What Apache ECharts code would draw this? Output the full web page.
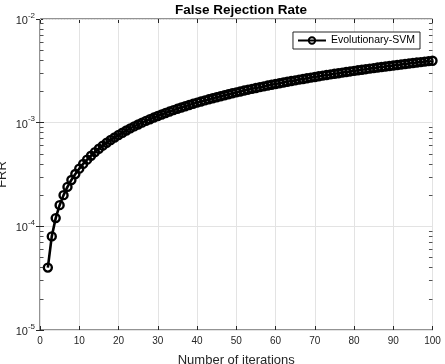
<!DOCTYPE html>
<html>
<head>
<meta charset="utf-8">
<script src="https://cdn.jsdelivr.net/npm/echarts@6/dist/echarts.min.js"></script>
<style>
  html, body { margin: 0; padding: 0; background: #fff; }
  #chart { width: 445px; height: 364px; }
</style>
</head>
<body>
<div id="chart"></div>
<script>
// iterations on the x axis
var iterations = [
  2, 3, 4, 5, 6, 7, 8, 9, 10, 11,
  12, 13, 14, 15, 16, 17, 18, 19, 20, 21,
  22, 23, 24, 25, 26, 27, 28, 29, 30, 31,
  32, 33, 34, 35, 36, 37, 38, 39, 40, 41,
  42, 43, 44, 45, 46, 47, 48, 49, 50, 51,
  52, 53, 54, 55, 56, 57, 58, 59, 60, 61,
  62, 63, 64, 65, 66, 67, 68, 69, 70, 71,
  72, 73, 74, 75, 76, 77, 78, 79, 80, 81,
  82, 83, 84, 85, 86, 87, 88, 89, 90, 91,
  92, 93, 94, 95, 96, 97, 98, 99, 100
];
// false rejection rate
var frr = [
  4.0e-5, 8.0e-5, 1.2e-4, 1.6e-4, 2.0e-4, 2.4e-4, 2.8e-4, 3.2e-4, 3.6e-4, 4.0e-4,
  4.4e-4, 4.8e-4, 5.2e-4, 5.6e-4, 6.0e-4, 6.4e-4, 6.8e-4, 7.2e-4, 7.6e-4, 8.0e-4,
  8.4e-4, 8.8e-4, 9.2e-4, 9.6e-4, 1.00e-3, 1.04e-3, 1.08e-3, 1.12e-3, 1.16e-3, 1.20e-3,
  1.24e-3, 1.28e-3, 1.32e-3, 1.36e-3, 1.40e-3, 1.44e-3, 1.48e-3, 1.52e-3, 1.56e-3, 1.60e-3,
  1.64e-3, 1.68e-3, 1.72e-3, 1.76e-3, 1.80e-3, 1.84e-3, 1.88e-3, 1.92e-3, 1.96e-3, 2.00e-3,
  2.04e-3, 2.08e-3, 2.12e-3, 2.16e-3, 2.20e-3, 2.24e-3, 2.28e-3, 2.32e-3, 2.36e-3, 2.40e-3,
  2.44e-3, 2.48e-3, 2.52e-3, 2.56e-3, 2.60e-3, 2.64e-3, 2.68e-3, 2.72e-3, 2.76e-3, 2.80e-3,
  2.84e-3, 2.88e-3, 2.92e-3, 2.96e-3, 3.00e-3, 3.04e-3, 3.08e-3, 3.12e-3, 3.16e-3, 3.20e-3,
  3.24e-3, 3.28e-3, 3.32e-3, 3.36e-3, 3.40e-3, 3.44e-3, 3.48e-3, 3.52e-3, 3.56e-3, 3.60e-3,
  3.64e-3, 3.68e-3, 3.72e-3, 3.76e-3, 3.80e-3, 3.84e-3, 3.88e-3, 3.92e-3, 3.96e-3
];
var decades = [-5, -4, -3];
var minorSteps = [2, 3, 4, 5, 6, 7, 8, 9];

var FONT = "'Liberation Sans', Arial, sans-serif";
var INK = '#262626';

var points = iterations.map(function (x, i) { return [x, frr[i]]; });

// dotted minor grid + small ticks at 2..9 x 10^k
var minorGrid = [];
var minorTicks = [];
decades.forEach(function (d) {
  minorSteps.forEach(function (m) {
    var v = m * Math.pow(10, d);
    minorGrid.push({ yAxis: v });
    minorTicks.push([{ coord: [0, v] }, { coord: [0.9, v] }]);
    minorTicks.push([{ coord: [99.1, v] }, { coord: [100, v] }]);
  });
});

function logLabel(v) {
  var e = Math.round(Math.log(v) / Math.LN10);
  return '{b|10}{s|' + e + '}';
}

var chart = echarts.init(document.getElementById('chart'));
chart.setOption({
  animation: false,
  textStyle: { fontFamily: FONT },
  title: {
    text: 'False Rejection Rate',
    left: 170,
    top: -2,
    textStyle: { fontSize: 13.5, fontWeight: 'bold', color: '#000', fontFamily: FONT }
  },
  legend: {
    right: 25,
    top: 32,
    orient: 'vertical',
    backgroundColor: '#fff',
    borderColor: INK,
    borderWidth: 1,
    borderRadius: 0,
    padding: [3, 5, 3, 4],
    itemWidth: 28,
    itemHeight: 8,
    itemGap: 0,
    textStyle: { fontSize: 10.5, color: '#000', fontFamily: FONT },
    data: ['Evolutionary-SVM']
  },
  grid: {
    left: 40, right: 12.5, top: 19, bottom: 34,
    containLabel: false,
    outerBoundsMode: 'none',
    show: true,
    borderColor: INK,
    borderWidth: 1,
    backgroundColor: 'transparent'
  },
  xAxis: [{
    type: 'value',
    min: 0,
    max: 100,
    interval: 10,
    name: 'Number of iterations',
    nameLocation: 'middle',
    nameGap: 24,
    nameMoveOverlap: false,
    nameTextStyle: { fontSize: 13, color: INK, fontFamily: FONT },
    axisLine: { show: false },
    axisTick: { inside: true, length: 4, lineStyle: { color: INK } },
    axisLabel: { fontSize: 10, color: INK, margin: 6, fontFamily: FONT },
    splitLine: { show: true, lineStyle: { color: '#e3e3e3', width: 1 } }
  }, {
    type: 'value',
    position: 'top',
    min: 0,
    max: 100,
    interval: 10,
    axisLine: { show: false, onZero: false },
    axisTick: { inside: true, length: 4, lineStyle: { color: INK } },
    axisLabel: { show: false },
    splitLine: { show: false }
  }],
  yAxis: [{
    type: 'log',
    logBase: 10,
    min: 1e-5,
    max: 1e-2,
    name: 'FRR',
    nameLocation: 'middle',
    nameGap: 31,
    nameMoveOverlap: false,
    nameTextStyle: { fontSize: 13, color: INK, fontFamily: FONT },
    axisLine: { show: false },
    axisTick: { inside: true, length: 4, lineStyle: { color: INK } },
    axisLabel: {
      margin: 5,
      formatter: logLabel,
      rich: {
        b: { fontSize: 11, color: INK, fontFamily: FONT, lineHeight: 15, verticalAlign: 'bottom' },
        s: { fontSize: 8, color: INK, fontFamily: FONT, lineHeight: 9, verticalAlign: 'top' }
      }
    },
    splitLine: { show: true, lineStyle: { color: '#e3e3e3', width: 1 } }
  }, {
    type: 'log',
    logBase: 10,
    position: 'right',
    min: 1e-5,
    max: 1e-2,
    axisLine: { show: false },
    axisTick: { inside: true, length: 4, lineStyle: { color: INK } },
    axisLabel: { show: false },
    splitLine: { show: false }
  }],
  series: [{
    name: 'minor',
    type: 'line',
    data: [],
    z: 1,
    silent: true,
    markLine: {
      silent: true,
      symbol: ['none', 'none'],
      label: { show: false },
      animation: false,
      lineStyle: { color: '#d4d4d4', type: [1, 2], width: 0.8 },
      data: minorGrid
    }
  }, {
    name: 'minorTicks',
    type: 'line',
    data: [],
    z: 1,
    silent: true,
    markLine: {
      silent: true,
      symbol: ['none', 'none'],
      label: { show: false },
      animation: false,
      lineStyle: { color: INK, type: 'solid', width: 0.8 },
      data: minorTicks
    }
  }, {
    name: 'Evolutionary-SVM',
    type: 'line',
    data: points,
    z: 3,
    symbol: 'circle',
    symbolSize: 8,
    showAllSymbol: true,
    lineStyle: { color: '#000', width: 2.6 },
    itemStyle: { color: 'rgba(255,255,255,0)', borderColor: '#000', borderWidth: 2.4 }
  }]
});
</script>
</body>
</html>
